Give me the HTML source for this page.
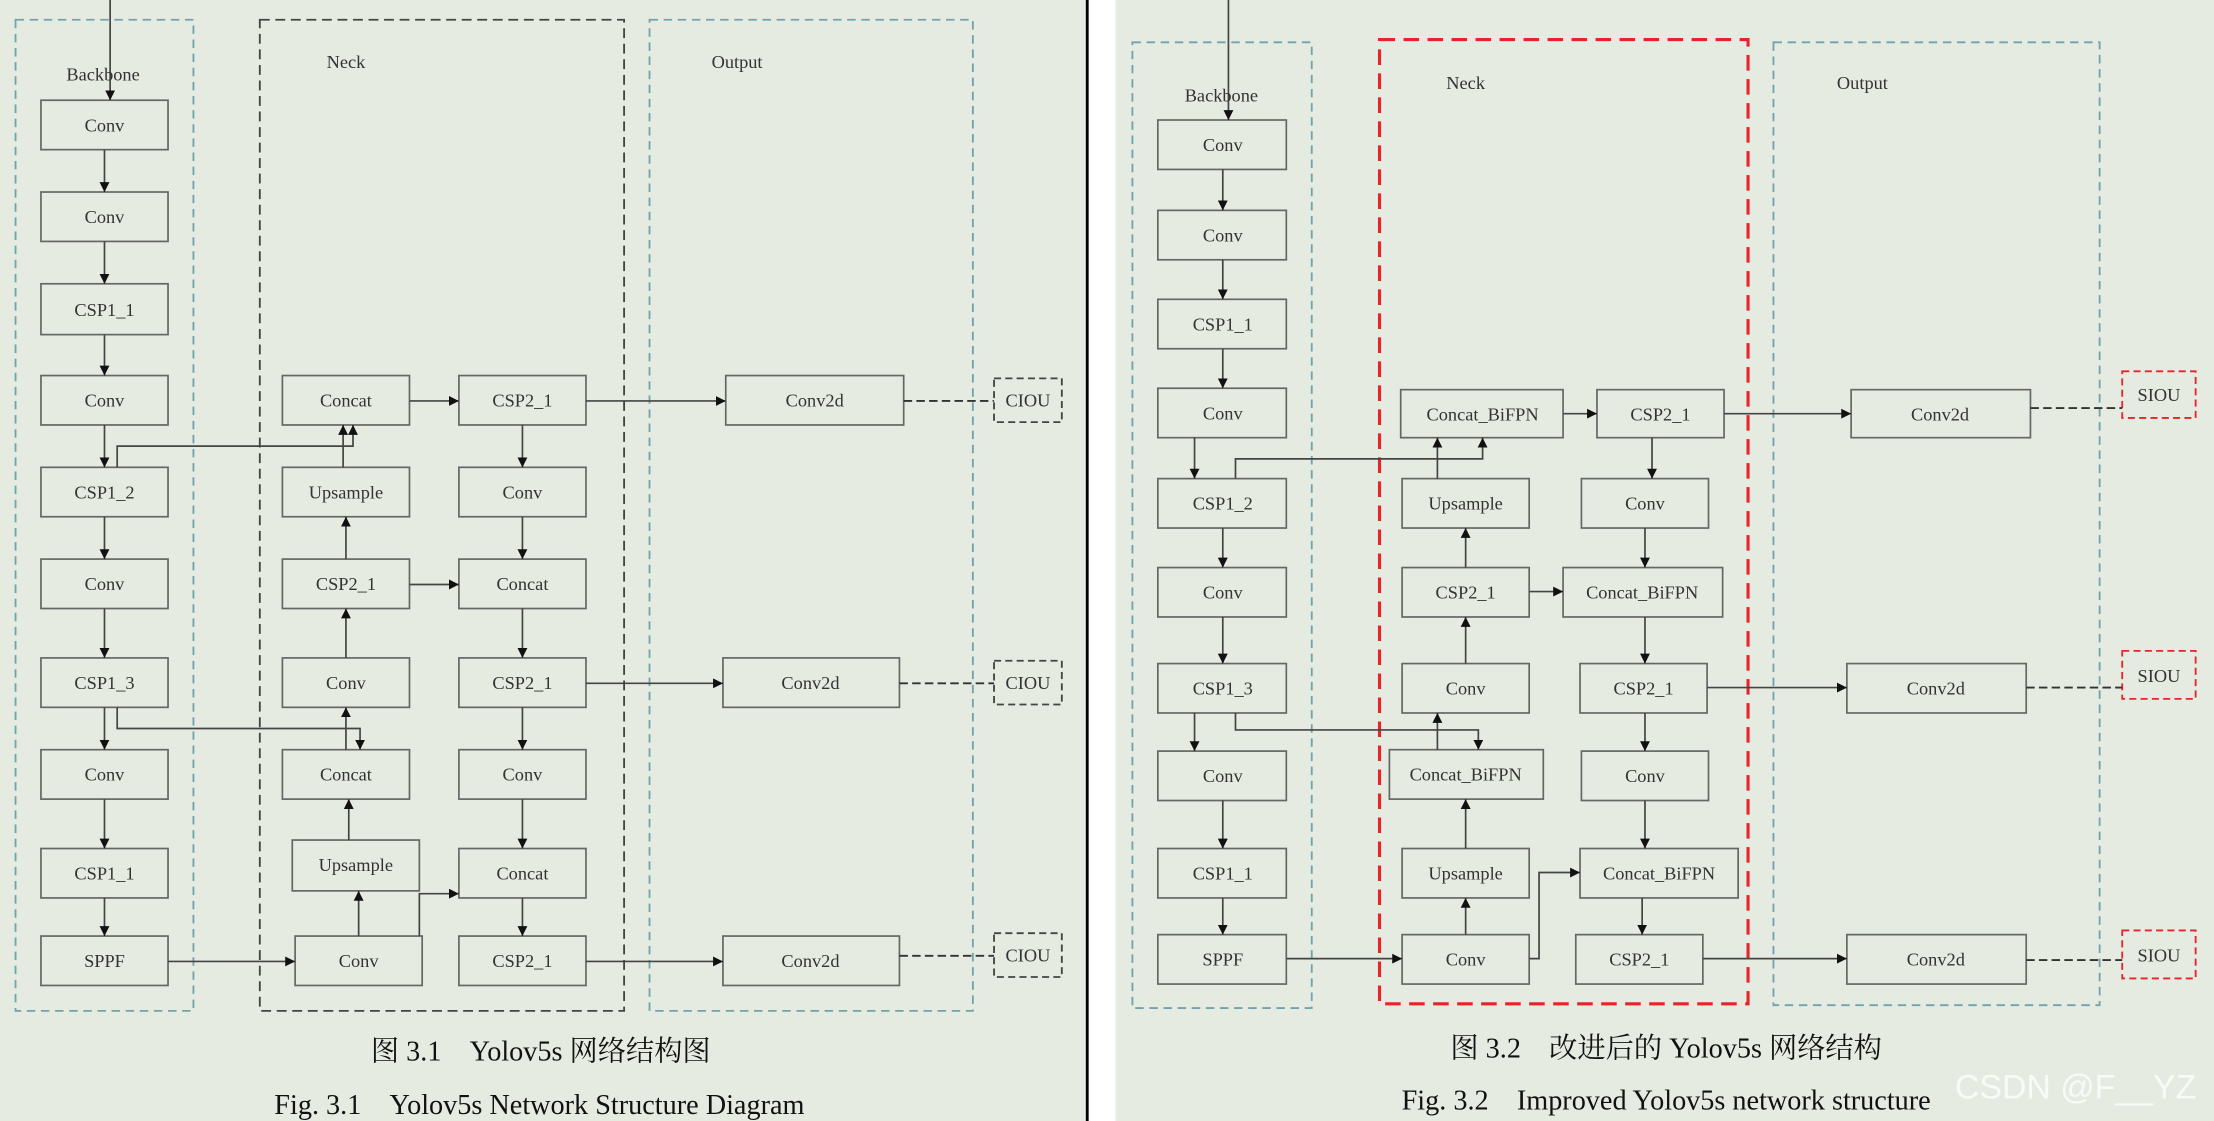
<!DOCTYPE html>
<html><head><meta charset="utf-8"><style>
html,body{margin:0;padding:0;background:#fff;}
svg{display:block}
text{font-family:"Liberation Serif","Noto Serif CJK SC",serif;fill:#333;}
</style></head><body>
<svg width="2214" height="1121" viewBox="0 0 1568 794" preserveAspectRatio="none" xmlns="http://www.w3.org/2000/svg">
<defs>
<marker id="a" viewBox="0 0 10 10" refX="10" refY="5" markerWidth="7" markerHeight="7" markerUnits="userSpaceOnUse" orient="auto"><path d="M0,0L10,5L0,10z" fill="#111"/></marker>
</defs>
<rect x="0" y="0" width="770" height="794" fill="#e6ebe1"/>
<rect x="790" y="0" width="778" height="794" fill="#e6ebe1"/>
<rect x="769" y="0" width="2" height="794" fill="#000"/>

<g fill="none" stroke-width="1.3">
<rect x="11" y="14" width="126" height="702" stroke="#6fa3ad" stroke-dasharray="6,4"/>
<rect x="184" y="14" width="258" height="702" stroke="#444" stroke-dasharray="7,4"/>
<rect x="460" y="14" width="229" height="702" stroke="#6fa3ad" stroke-dasharray="6,4"/>
<rect x="802" y="30" width="127" height="684" stroke="#6fa3ad" stroke-dasharray="6,4"/>
<rect x="977" y="28" width="261" height="683" stroke="#e8242a" stroke-width="2.2" stroke-dasharray="11,6"/>
<rect x="1256" y="30" width="231" height="682" stroke="#6fa3ad" stroke-dasharray="6,4"/>
<g stroke="#444" stroke-dasharray="5,3"><rect x="704" y="268" width="48" height="31"/><rect x="704" y="468" width="48" height="31"/><rect x="704" y="661" width="48" height="31"/></g>
<g stroke="#e8242a" stroke-dasharray="5,3"><rect x="1503" y="263" width="52" height="33"/><rect x="1503" y="461" width="52" height="34"/><rect x="1503" y="659" width="52" height="34"/></g>
</g>

<g fill="none" stroke="#666" stroke-width="1.2">
<!-- left backbone -->
<rect x="29" y="71" width="90" height="35"/><rect x="29" y="136" width="90" height="35"/><rect x="29" y="201" width="90" height="36"/><rect x="29" y="266" width="90" height="35"/><rect x="29" y="331" width="90" height="35"/><rect x="29" y="396" width="90" height="35"/><rect x="29" y="466" width="90" height="35"/><rect x="29" y="531" width="90" height="35"/><rect x="29" y="601" width="90" height="35"/><rect x="29" y="663" width="90" height="35"/>
<!-- left neck -->
<rect x="200" y="266" width="90" height="35"/><rect x="200" y="331" width="90" height="35"/><rect x="200" y="396" width="90" height="35"/><rect x="200" y="466" width="90" height="35"/><rect x="200" y="531" width="90" height="35"/><rect x="207" y="595" width="90" height="36"/><rect x="209" y="663" width="90" height="35"/>
<rect x="325" y="266" width="90" height="35"/><rect x="325" y="331" width="90" height="35"/><rect x="325" y="396" width="90" height="35"/><rect x="325" y="466" width="90" height="35"/><rect x="325" y="531" width="90" height="35"/><rect x="325" y="601" width="90" height="35"/><rect x="325" y="663" width="90" height="35"/>
<rect x="514" y="266" width="126" height="35"/><rect x="512" y="466" width="125" height="35"/><rect x="512" y="663" width="125" height="35"/>
<!-- right backbone -->
<rect x="820" y="85" width="91" height="35"/><rect x="820" y="149" width="91" height="35"/><rect x="820" y="212" width="91" height="35"/><rect x="820" y="275" width="91" height="35"/><rect x="820" y="339" width="91" height="35"/><rect x="820" y="402" width="91" height="35"/><rect x="820" y="470" width="91" height="35"/><rect x="820" y="532" width="91" height="35"/><rect x="820" y="601" width="91" height="35"/><rect x="820" y="662" width="91" height="35"/>
<!-- right neck -->
<rect x="992" y="276" width="115" height="34"/><rect x="993" y="339" width="90" height="35"/><rect x="993" y="402" width="90" height="35"/><rect x="993" y="470" width="90" height="35"/><rect x="984" y="531" width="109" height="35"/><rect x="993" y="601" width="90" height="35"/><rect x="993" y="662" width="90" height="35"/>
<rect x="1131" y="276" width="90" height="34"/><rect x="1120" y="339" width="90" height="35"/><rect x="1107" y="402" width="113" height="35"/><rect x="1119" y="470" width="90" height="35"/><rect x="1120" y="532" width="90" height="35"/><rect x="1119" y="601" width="112" height="35"/><rect x="1116" y="662" width="90" height="35"/>
<rect x="1311" y="276" width="127" height="34"/><rect x="1308" y="470" width="127" height="35"/><rect x="1308" y="662" width="127" height="35"/>
</g>

<g fill="none" stroke="#444" stroke-width="1.2" marker-end="url(#a)">
<!-- left -->
<path d="M78,0V71"/><path d="M74,106V136"/><path d="M74,171V201"/><path d="M74,237V266"/><path d="M74,301V331"/><path d="M74,366V396"/><path d="M74,431V466"/><path d="M74,501V531"/><path d="M74,566V601"/><path d="M74,636V663"/>
<path d="M119,681H209"/><path d="M254,663V631"/><path d="M247,595V566"/><path d="M245,531V501"/><path d="M245,466V431"/><path d="M245,396V366"/><path d="M243,331V301"/>
<path d="M83,331V316H250V301"/><path d="M83,501V516H255V531"/>
<path d="M290,284H325"/><path d="M415,284H514"/><path d="M370,301V331"/><path d="M370,366V396"/><path d="M290,414H325"/><path d="M370,431V466"/><path d="M415,484H512"/><path d="M370,501V531"/><path d="M370,566V601"/><path d="M297,663V633H325"/><path d="M370,636V663"/><path d="M415,681H512"/>
<!-- right -->
<path d="M870,0V85"/><path d="M866,120V149"/><path d="M866,184V212"/><path d="M866,247V275"/><path d="M846,310V339"/><path d="M866,374V402"/><path d="M866,437V470"/><path d="M846,505V532"/><path d="M866,567V601"/><path d="M866,636V662"/>
<path d="M911,679H993"/><path d="M1038,662V636"/><path d="M1038,601V566"/><path d="M1018,531V505"/><path d="M1038,470V437"/><path d="M1038,402V374"/><path d="M1018,339V310"/>
<path d="M875,339V325H1050V310"/><path d="M875,505V517H1047V531"/>
<path d="M1107,293H1131"/><path d="M1221,293H1311"/><path d="M1170,310V339"/><path d="M1165,374V402"/><path d="M1083,419H1107"/><path d="M1165,437V470"/><path d="M1209,487H1308"/><path d="M1165,505V532"/><path d="M1165,567V601"/><path d="M1083,679H1090V618H1119"/><path d="M1163,636V662"/><path d="M1206,679H1308"/>
</g>
<g stroke="#333" stroke-width="1.3" stroke-dasharray="6,3">
<path d="M640,284H704"/><path d="M637,484H704"/><path d="M637,677H704"/>
<path d="M1438,289H1503"/><path d="M1435,487H1503"/><path d="M1435,680H1503"/>
</g>

<g font-size="13" text-anchor="middle">
<text x="73" y="57">Backbone</text><text x="245" y="48">Neck</text><text x="522" y="48">Output</text>
<text x="74" y="93">Conv</text><text x="74" y="158">Conv</text><text x="74" y="224">CSP1_1</text><text x="74" y="288">Conv</text><text x="74" y="353">CSP1_2</text><text x="74" y="418">Conv</text><text x="74" y="488">CSP1_3</text><text x="74" y="553">Conv</text><text x="74" y="623">CSP1_1</text><text x="74" y="685">SPPF</text>
<text x="245" y="288">Concat</text><text x="245" y="353">Upsample</text><text x="245" y="418">CSP2_1</text><text x="245" y="488">Conv</text><text x="245" y="553">Concat</text><text x="252" y="617">Upsample</text><text x="254" y="685">Conv</text>
<text x="370" y="288">CSP2_1</text><text x="370" y="353">Conv</text><text x="370" y="418">Concat</text><text x="370" y="488">CSP2_1</text><text x="370" y="553">Conv</text><text x="370" y="623">Concat</text><text x="370" y="685">CSP2_1</text>
<text x="577" y="288">Conv2d</text><text x="574" y="488">Conv2d</text><text x="574" y="685">Conv2d</text>
<text x="728" y="288">CIOU</text><text x="728" y="488">CIOU</text><text x="728" y="681">CIOU</text>
<text x="865" y="72">Backbone</text><text x="1038" y="63">Neck</text><text x="1319" y="63">Output</text>
<text x="866" y="107">Conv</text><text x="866" y="171">Conv</text><text x="866" y="234">CSP1_1</text><text x="866" y="297">Conv</text><text x="866" y="361">CSP1_2</text><text x="866" y="424">Conv</text><text x="866" y="492">CSP1_3</text><text x="866" y="554">Conv</text><text x="866" y="623">CSP1_1</text><text x="866" y="684">SPPF</text>
<text x="1050" y="298">Concat_BiFPN</text><text x="1038" y="361">Upsample</text><text x="1038" y="424">CSP2_1</text><text x="1038" y="492">Conv</text><text x="1038" y="553">Concat_BiFPN</text><text x="1038" y="623">Upsample</text><text x="1038" y="684">Conv</text>
<text x="1176" y="298">CSP2_1</text><text x="1165" y="361">Conv</text><text x="1163" y="424">Concat_BiFPN</text><text x="1164" y="492">CSP2_1</text><text x="1165" y="554">Conv</text><text x="1175" y="623">Concat_BiFPN</text><text x="1161" y="684">CSP2_1</text>
<text x="1374" y="298">Conv2d</text><text x="1371" y="492">Conv2d</text><text x="1371" y="684">Conv2d</text>
<text x="1529" y="284">SIOU</text><text x="1529" y="483">SIOU</text><text x="1529" y="681">SIOU</text>
</g>
<g font-size="20" text-anchor="middle" fill="#111">
<text x="383" y="751" style="fill:#111">图 3.1　Yolov5s 网络结构图</text>
<text x="382" y="789" style="fill:#111">Fig. 3.1　Yolov5s Network Structure Diagram</text>
<text x="1180" y="749" style="fill:#111">图 3.2　改进后的 Yolov5s 网络结构</text>
<text x="1180" y="786" style="fill:#111">Fig. 3.2　Improved Yolov5s network structure</text>
</g>
<text x="1470" y="778" font-size="24" text-anchor="middle" style="font-family:'Liberation Sans',sans-serif;fill:#fff;opacity:0.75">CSDN @F__YZ</text>
</svg>
</body></html>
